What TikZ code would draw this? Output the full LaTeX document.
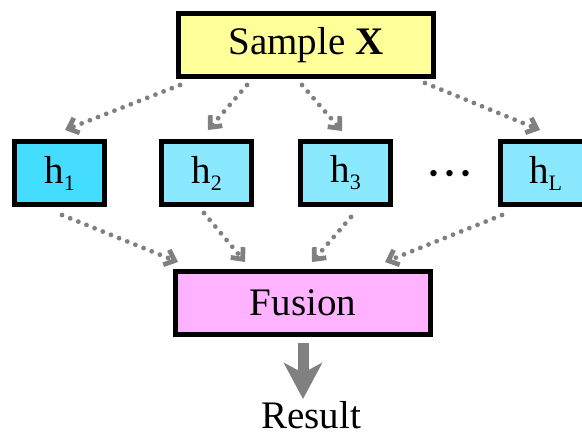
\documentclass[tikz,border=0pt]{standalone}
\usepackage{xcolor}
\usepackage{fontspec}
\setmainfont{Liberation Serif}
\usepackage{tikz}
\usetikzlibrary{positioning, arrows.meta, calc}

\newcommand{\hsub}[1]{h\raisebox{-0.18em}{\fontsize{11}{11}\selectfont #1}}

\begin{document}
\begin{tikzpicture}[x=0.5pt, y=-0.5pt,
    % boxes: thick black frame, same height everywhere
    box/.style={draw, rectangle, line width=2.3pt, inner sep=0pt,
                font=\fontsize{19.5}{23}\selectfont, minimum height=31.7pt},
    wide/.style={box, minimum width=127.7pt},
    hbox/.style={box, minimum width=45.2pt, fill=hC},
    % dotted grey connectors with open barb
    dotarrow/.style={gray, line width=2.4pt, line cap=round,
                     dash pattern=on 0pt off 4.4pt,
                     -{Straight Barb[length=4.5pt, width=8pt]}},
    bigarrow/.style={gray, line width=5.5pt, -{Stealth[length=18pt, width=19pt, inset=5pt]}},
    txt/.style={font=\fontsize{19.5}{23}\selectfont}
]

\definecolor{sampleC}{RGB}{255,255,153}
\definecolor{hOneC}{RGB}{68,221,255}
\definecolor{hC}{RGB}{138,232,255}
\definecolor{fusC}{RGB}{255,178,255}

\clip (0,0) rectangle (582,434);

% input
\node[wide, fill=sampleC] (smp) at (306,45) {Sample \textbf{X}};

% learners
\node[hbox, fill=hOneC] (h1) at (59.5,173) {\hsub{1}};
\node[hbox] (h2) at (206.5,173) {\hsub{2}};
\node[hbox] (h3) at (345.5,173) {\hsub{3}};
\node[txt, anchor=base] (dots) at (450,186) {\textbf{·\kern1.6pt·\kern1.6pt·}};
\node[hbox] (hL) at (545.5,173) {\hsub{L}};

% fusion and output
\node[wide, fill=fusC] (fus) at (303,303) {Fusion};
\coordinate (tip) at (303,399);
\node[txt, anchor=base, inner sep=0pt] (res) at (311,428) {Result};

% sample -> learners
\draw[dotarrow] ($(smp.south west)+(4,6)$) -- ($(h1.north)+(5.5,-9)$);
\draw[dotarrow] ($(smp.south)+(-59,6)$) -- ($(h2.north)+(1.5,-9)$);
\draw[dotarrow] ($(smp.south)+(-4,6)$) -- ($(h3.north)+(-3.5,-8)$);
\draw[dotarrow] ($(smp.south east)+(-11,4)$) -- ($(hL.north)+(-5.5,-9)$);

% learners -> fusion
\draw[dotarrow] ($(h1.south)+(2.5,8)$) -- ($(fus.north west)+(5,-7)$);
\draw[dotarrow] ($(h2.south)+(-2.5,6)$) -- ($(fus.north)+(-58,-7)$);
\draw[dotarrow] ($(h3.south)+(5.5,10)$) -- ($(fus.north)+(9,-7)$);
\draw[dotarrow] ($(hL.south west)+(4,8)$) -- ($(fus.north east)+(-48,-7)$);

% result
\draw[bigarrow] ($(fus.south)+(0,6)$) -- (tip);

\end{tikzpicture}
\end{document}
